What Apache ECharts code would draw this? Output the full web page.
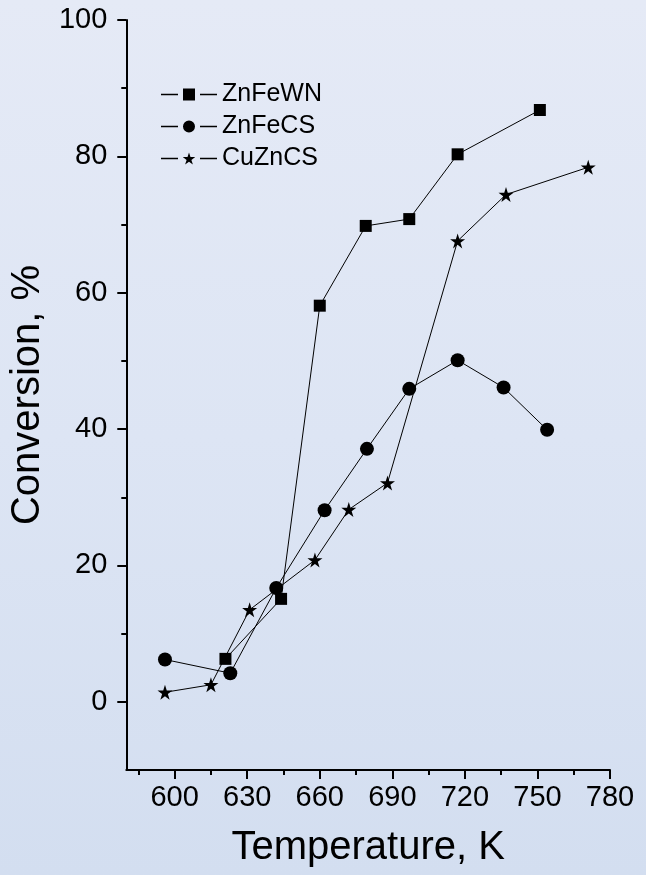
<!DOCTYPE html>
<html>
<head>
<meta charset="utf-8">
<script src="https://cdn.jsdelivr.net/npm/echarts@6/dist/echarts.min.js"></script>
<style>
html,body{margin:0;padding:0;}
body{width:646px;height:875px;background:linear-gradient(180deg,#e5eaf6 0%,#dde5f4 50%,#d3def0 100%);}
#c{width:646px;height:875px;}
</style>
</head>
<body>
<div id="c"></div>
<script>
// Data
const znFeWN_T = [621, 644, 660, 679, 697, 717, 751];
const znFeWN_V = [6.3, 15.1, 58.1, 69.8, 70.8, 80.3, 86.8];
const znFeCS_T = [596, 623, 642, 662, 679.5, 697, 717, 736, 754];
const znFeCS_V = [6.2, 4.2, 16.7, 28.1, 37.1, 45.9, 50.1, 46.1, 39.9];
const cuZnCS_T = [596, 615, 631, 658, 672, 688, 717, 737, 771];
const cuZnCS_V = [1.4, 2.5, 13.5, 20.8, 28.2, 32.1, 67.6, 74.4, 78.4];
const seriesNames = ['ZnFeWN', 'ZnFeCS', 'CuZnCS'];
const xMajorTicks = [600, 630, 660, 690, 720, 750, 780];
const xMinorTicks = [585, 615, 645, 675, 705, 735, 765];
const yMajorTicks = [0, 20, 40, 60, 80, 100];
const yMinorTicks = [10, 30, 50, 70, 90];

const pair = (t, v) => t.map((x, i) => [x, v[i]]);
const starPath = 'path://M50,0 L61.2,34.5 L97.6,34.5 L68.2,55.9 L79.4,90.5 L50,69.1 L20.6,90.5 L31.8,55.9 L2.4,34.5 L38.8,34.5 Z';
const FONT = '"Liberation Sans", Arial, sans-serif';

// legend icons: short line, gap, marker, gap, short line
const legSides = 'M0,5.3h17v1.4h-17z M39,5.3h17v1.4h-17z ';
const legendIcons = [
  'path://' + legSides + 'M22,0h12v12h-12z',
  'path://' + legSides + 'M22,6a6,6 0 1,0 12,0a6,6 0 1,0 -12,0z',
  'path://' + legSides + 'M28,0 L29.48,4.56 L34.28,4.56 L30.4,7.38 L31.88,11.94 L28,9.12 L24.12,11.94 L25.6,7.38 L21.72,4.56 L26.52,4.56 Z'
];

const chart = echarts.init(document.getElementById('c'), null, {renderer: 'canvas'});
const lineStyle = {color: '#000', width: 1};
chart.setOption({
  backgroundColor: 'transparent',
  animation: false,
  grid: {left: 116, right: 36, top: 20, bottom: 105, containLabel: false},
  legend: {
    orient: 'vertical', left: 156, top: 77,
    itemWidth: 56, itemHeight: 12, itemGap: 7,
    textStyle: {fontFamily: FONT, fontSize: 25, color: '#000'},
    data: seriesNames.map((n, i) => ({name: n, icon: legendIcons[i]}))
  },
  xAxis: [{
    type: 'value', min: 580, max: 780, position: 'bottom',
    name: 'Temperature, K', nameLocation: 'middle', nameGap: 58,
    nameTextStyle: {fontFamily: FONT, fontSize: 40, color: '#000'},
    axisLine: {show: true, onZero: false, lineStyle: {color: '#000', width: 2}},
    axisTick: {show: true, customValues: xMajorTicks, length: 9, lineStyle: {color: '#000', width: 2}},
    axisLabel: {customValues: xMajorTicks, margin: 13, fontFamily: FONT, fontSize: 29, color: '#000'},
    splitLine: {show: false}
  }, {
    type: 'value', min: 580, max: 780, position: 'bottom', offset: 0,
    axisLine: {show: false, onZero: false},
    axisTick: {show: true, customValues: xMinorTicks, length: 5, lineStyle: {color: '#000', width: 2}},
    axisLabel: {show: false},
    splitLine: {show: false}
  }],
  yAxis: [{
    type: 'value', min: -10, max: 100, position: 'left',
    name: 'Conversion, %', nameLocation: 'middle', nameGap: 60,
    nameTextStyle: {fontFamily: FONT, fontSize: 40, color: '#000'},
    axisLine: {show: true, onZero: false, lineStyle: {color: '#000', width: 2}},
    axisTick: {show: true, customValues: yMajorTicks, length: 9, lineStyle: {color: '#000', width: 2}},
    axisLabel: {customValues: yMajorTicks, margin: 19, fontFamily: FONT, fontSize: 29, color: '#000'},
    splitLine: {show: false}
  }, {
    type: 'value', min: -10, max: 100, position: 'left', offset: 0,
    axisLine: {show: false, onZero: false},
    axisTick: {show: true, customValues: yMinorTicks, length: 5, lineStyle: {color: '#000', width: 2}},
    axisLabel: {show: false},
    splitLine: {show: false}
  }],
  series: [{
    name: seriesNames[0], type: 'line', data: pair(znFeWN_T, znFeWN_V),
    symbol: 'rect', symbolSize: 12, lineStyle: lineStyle,
    itemStyle: {color: '#000'}
  }, {
    name: seriesNames[1], type: 'line', data: pair(znFeCS_T, znFeCS_V),
    symbol: 'circle', symbolSize: 14, lineStyle: lineStyle,
    itemStyle: {color: '#000'}
  }, {
    name: seriesNames[2], type: 'line', data: pair(cuZnCS_T, cuZnCS_V),
    symbol: starPath, symbolSize: 15, lineStyle: lineStyle,
    itemStyle: {color: '#000'}
  }]
});
</script>
</body>
</html>
